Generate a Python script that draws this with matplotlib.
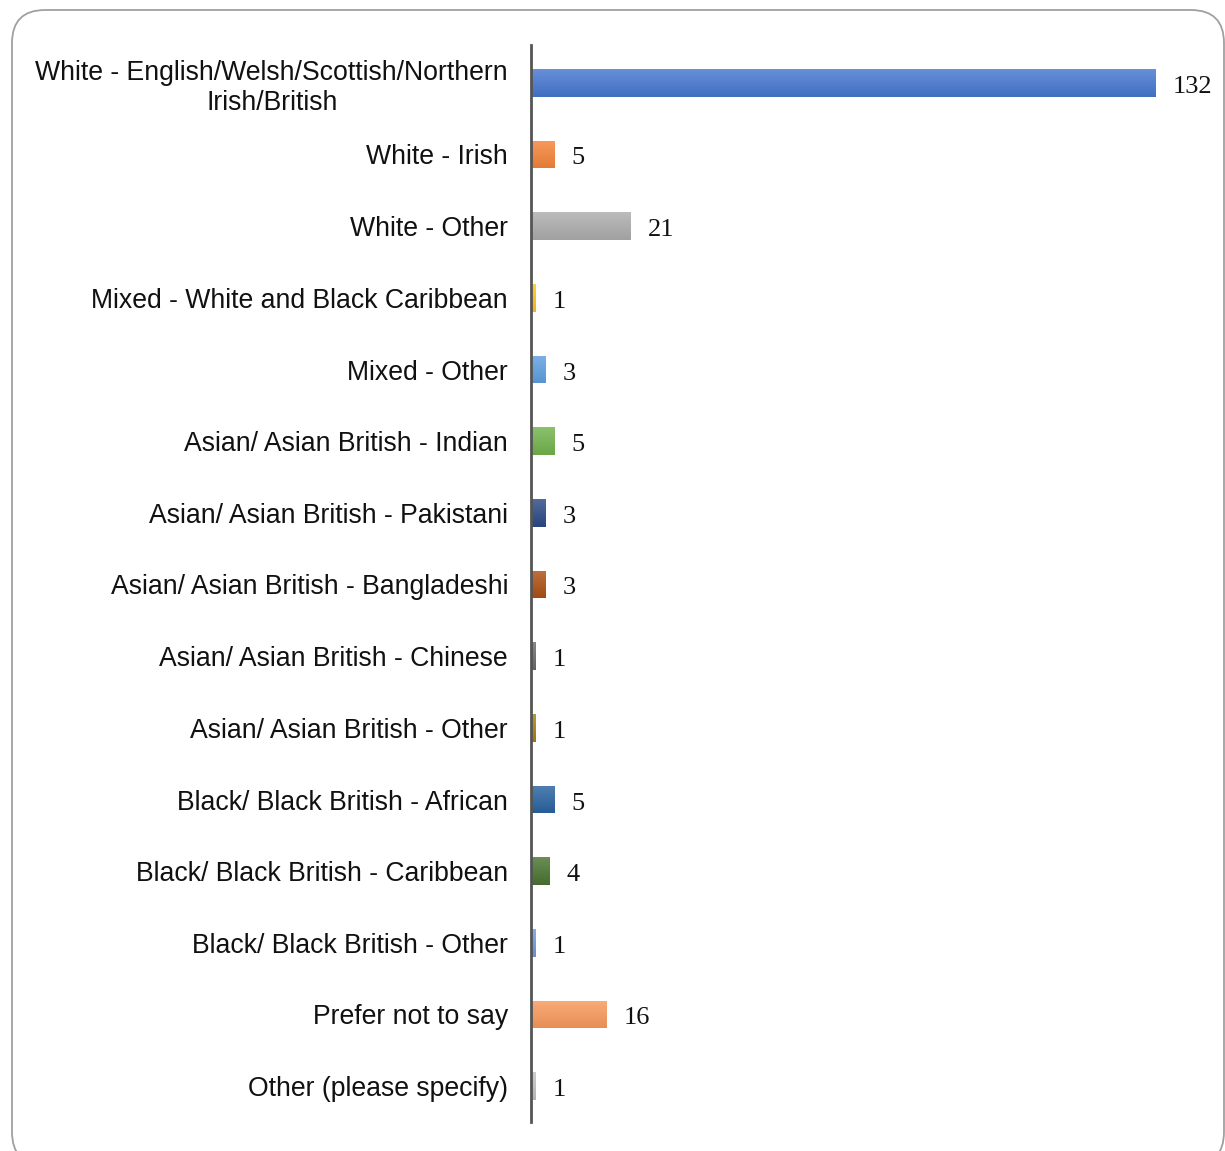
import matplotlib
matplotlib.use("Agg")
import matplotlib.pyplot as plt
import numpy as np
from matplotlib.patches import FancyBboxPatch
import matplotlib.colors as mcolors
import matplotlib.transforms as mtransforms

categories = [
    "White - English/Welsh/Scottish/Northern\nIrish/British",
    "White - Irish",
    "White - Other",
    "Mixed - White and Black Caribbean",
    "Mixed - Other",
    "Asian/ Asian British - Indian",
    "Asian/ Asian British - Pakistani",
    "Asian/ Asian British - Bangladeshi",
    "Asian/ Asian British - Chinese",
    "Asian/ Asian British - Other",
    "Black/ Black British - African",
    "Black/ Black British - Caribbean",
    "Black/ Black British - Other",
    "Prefer not to say",
    "Other (please specify)",
]
values = [132, 5, 21, 1, 3, 5, 3, 3, 1, 1, 5, 4, 1, 16, 1]
colors = ["#4577d0", "#f5843a", "#adadad", "#ffc413", "#5ea0e0", "#72b34c",
          "#2c4a86", "#ad5114", "#6b6b6b", "#a88012", "#2a64a0", "#4a7431",
          "#6f98e0", "#f8995c", "#c2c2c2"]

W, H = 1225, 1151
fig = plt.figure(figsize=(W / 100, H / 100), dpi=100)

# rounded border
x0, y0, x1, y1 = 12, 10, 1224, 1165
border = FancyBboxPatch((x0 / W, 1 - y1 / H), (x1 - x0) / W, (y1 - y0) / H,
                        boxstyle="round,pad=0,rounding_size=0.027",
                        transform=fig.transFigure, facecolor="none",
                        edgecolor="#a0a0a0", linewidth=1.3, mutation_aspect=W / H,
                        zorder=-5)
fig.patches.append(border)

ax_left, ax_right, ax_top, ax_bot = 531, 1215, 47, 1122
ax = fig.add_axes([ax_left / W, 1 - ax_bot / H, (ax_right - ax_left) / W, (ax_bot - ax_top) / H])
ax.patch.set_alpha(0)
ax.set_zorder(2)

y = np.arange(len(categories))
scale = (1156 - 531) / 132.0
xmax = (ax_right - ax_left) / scale
bars = ax.barh(y, values, height=0.39, color=colors, edgecolor="none", zorder=2)

# subtle vertical gradient on each bar
for b, c in zip(bars, colors):
    rgb = np.array(mcolors.to_rgb(c))
    light = np.clip(rgb + (1 - rgb) * 0.18, 0, 1)
    dark = rgb * 0.93
    n = 32
    t = np.linspace(0, 1, n)[:, None]
    grad = light[None, :] * (1 - t) + dark[None, :] * t
    img = grad[:, None, :]
    bx, by, bw, bh = b.get_x(), b.get_y(), b.get_width(), b.get_height()
    im = ax.imshow(img, extent=[bx, bx + bw, by + bh, by], aspect="auto",
                   zorder=3, interpolation="bilinear")
    im.set_clip_path(b)

shift = mtransforms.ScaledTranslation(0, -4 / 100, fig.dpi_scale_trans)
for yi, v in zip(y, values):
    ax.text(v + 17 / scale, yi, str(v), va="center", ha="left",
            fontsize=19, family="Liberation Serif", color="#111111", zorder=4,
            transform=ax.transData + shift)

ax.set_xlim(0, xmax)
ax.set_ylim(len(categories) - 0.5, -0.5)
ax.set_yticks(y)
ax.set_yticklabels(categories, fontsize=19.2, family="Liberation Sans",
                   multialignment="center", color="#111111", linespacing=1.22)
ax.tick_params(axis="y", length=0, pad=16.5)
ax.set_xticks([])
for s in ["top", "right", "bottom"]:
    ax.spines[s].set_visible(False)
ax.spines["left"].set_color("#555555")
ax.spines["left"].set_linewidth(2)
ax.spines["left"].set_zorder(5)
ax.spines["left"].set_bounds(-0.53, len(categories) - 0.5)

fig.savefig("out.png", dpi=100)
